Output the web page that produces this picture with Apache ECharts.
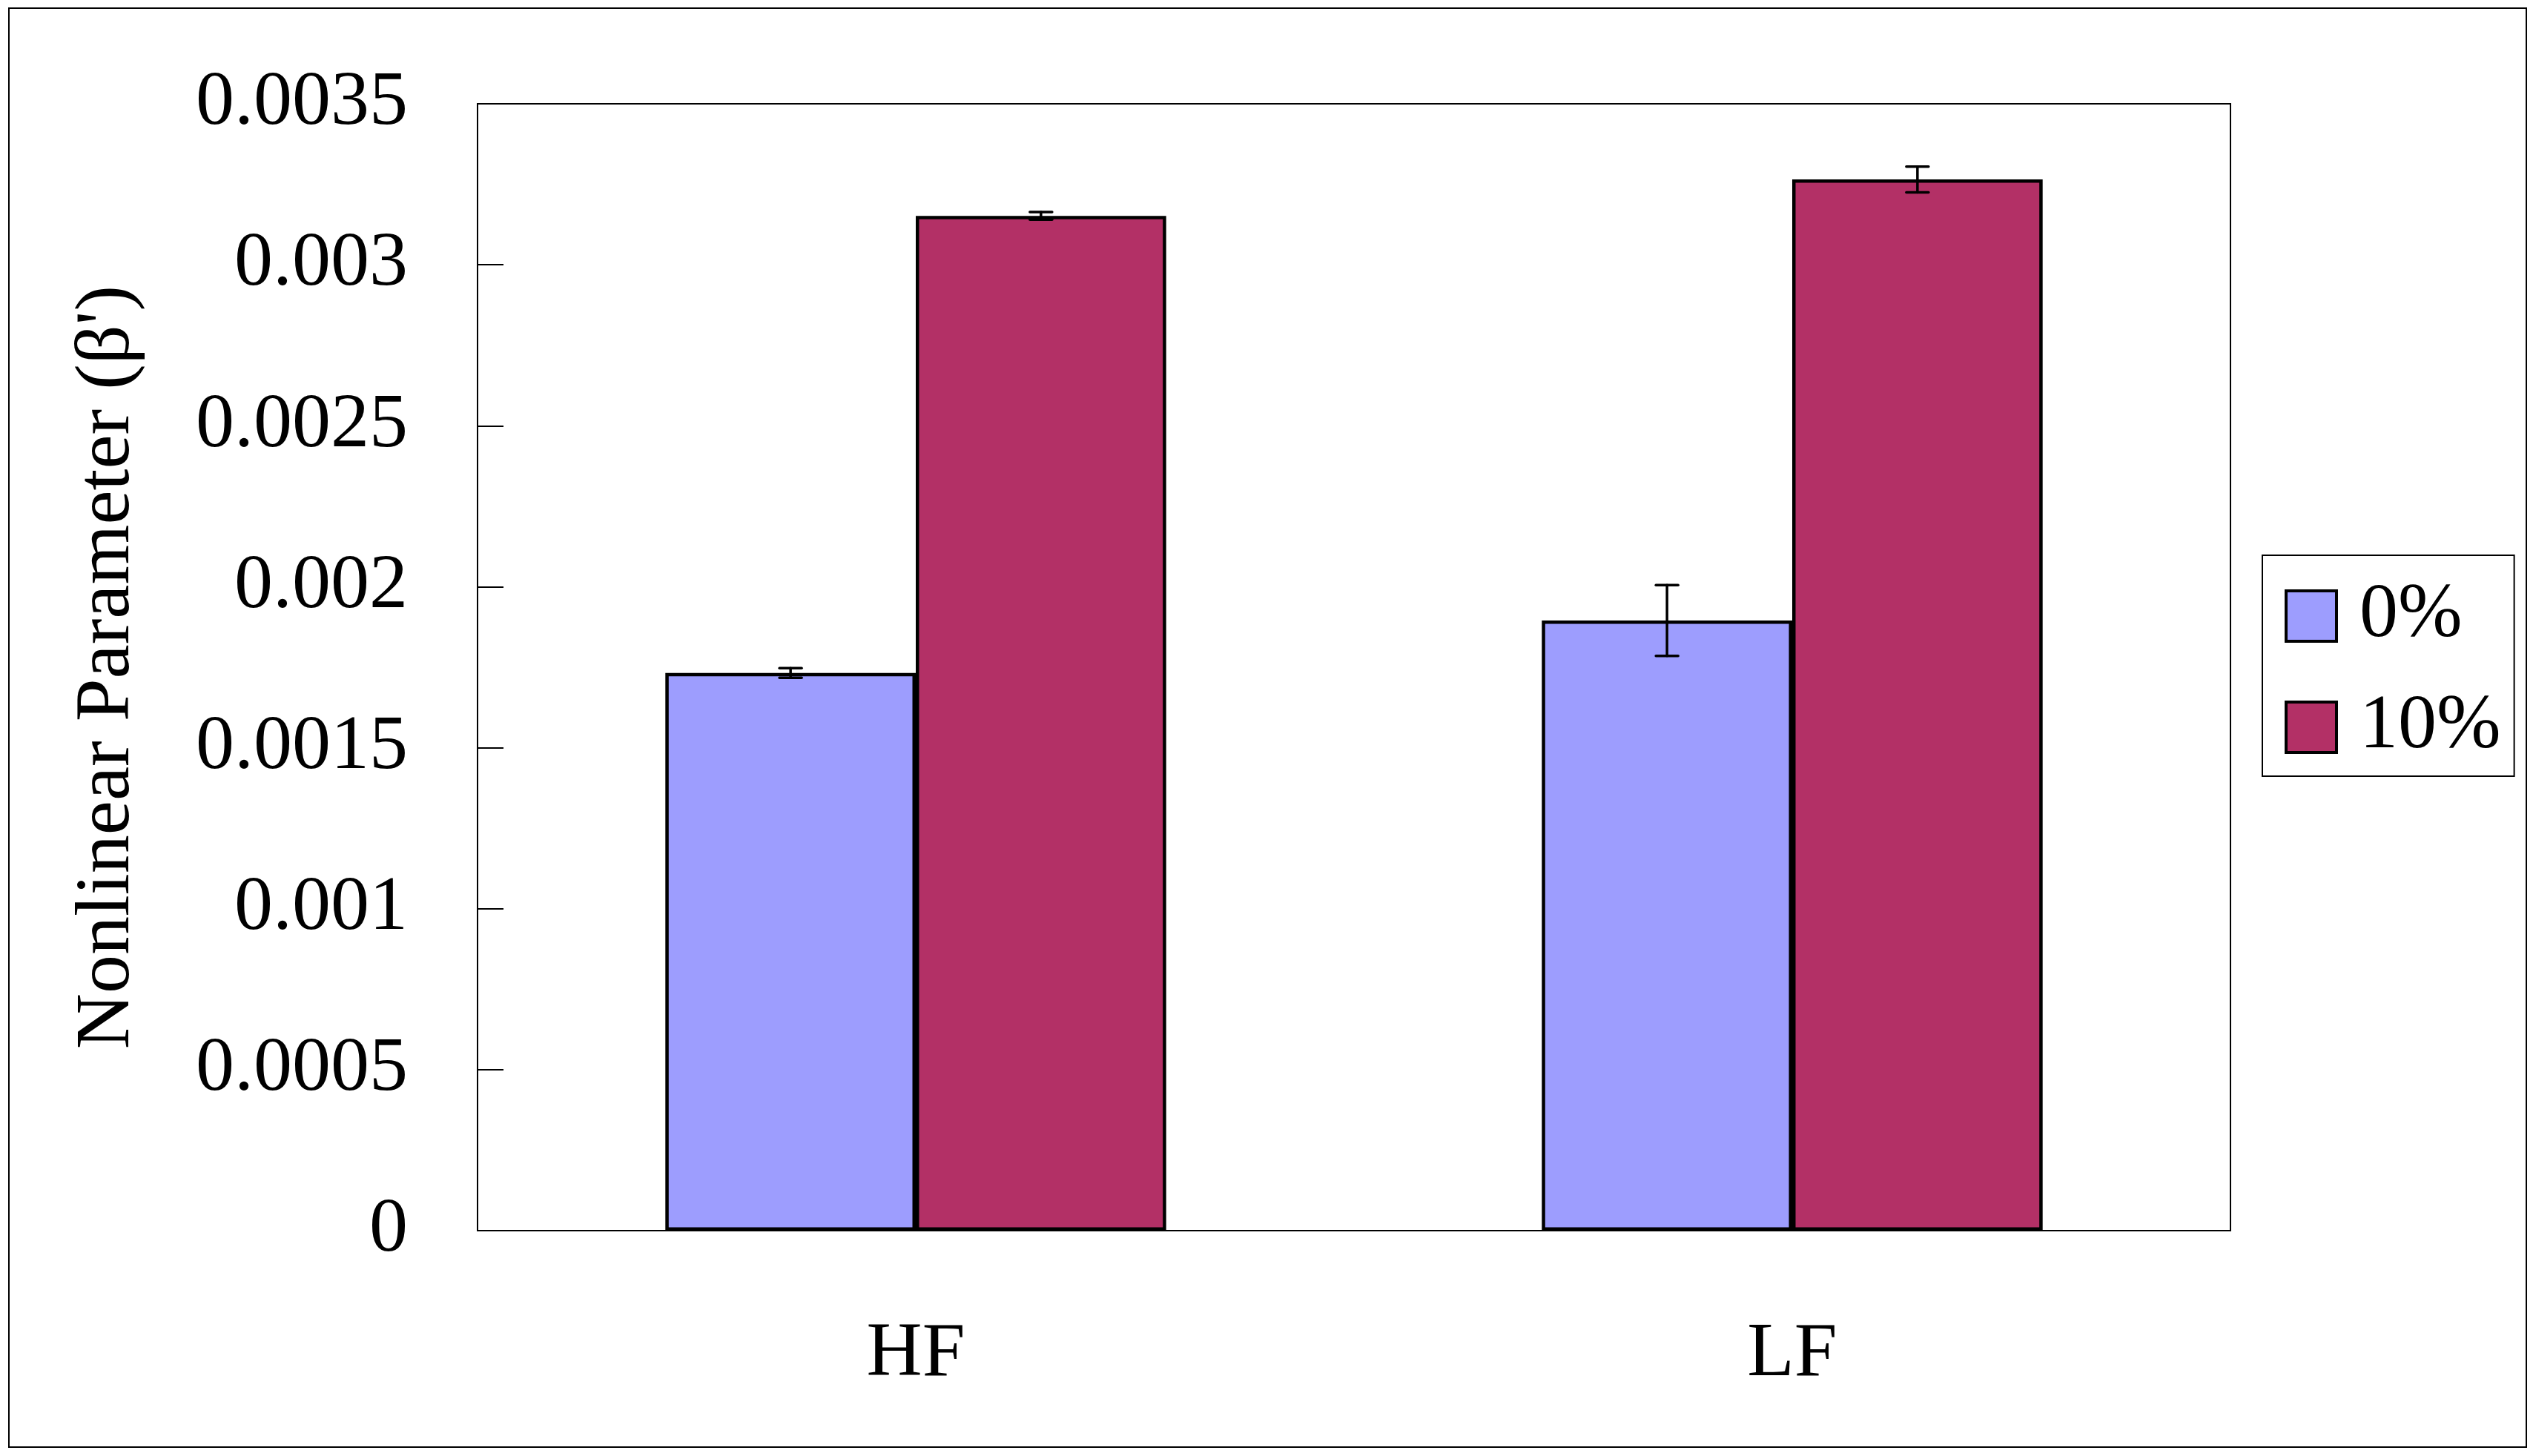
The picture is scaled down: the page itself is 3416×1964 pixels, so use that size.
<!DOCTYPE html>
<html>
<head>
<meta charset="utf-8">
<script src="https://cdn.jsdelivr.net/npm/echarts@6/dist/echarts.min.js"></script>
<style>
html,body{margin:0;padding:0;background:#fff;}
#c{width:3416px;height:1964px;}
</style>
</head>
<body>
<div id="c"></div>
<script>
var categories = ['HF', 'LF'];
var seriesNames = ['0%', '10%'];
var values0 = [0.001732, 0.001895];
var values10 = [0.003152, 0.003265];
var err0 = [0.000015, 0.00011];
var err10 = [0.000012, 0.00004];
var yTickLabels = ['0', '0.0005', '0.001', '0.0015', '0.002', '0.0025', '0.003', '0.0035'];

var FONT = '"Liberation Serif", "Times New Roman", serif';
var BAR_FRAC = 0.2857;

function errData(vals, errs) {
  return vals.map(function (v, i) { return [i, v, errs[i]]; });
}

function makeErrRender(sign) {
  return function (params, api) {
    var xi = api.value(0), v = api.value(1), e = api.value(2);
    var bw = api.size([1, 0])[0];
    var off = sign * bw * BAR_FRAC / 2;
    var top = api.coord([xi, v + e]);
    var bot = api.coord([xi, v - e]);
    var x = top[0] + off;
    var cap = 15;
    var st = { stroke: '#000', lineWidth: 3.5, lineCap: 'round' };
    return {
      type: 'group',
      children: [
        { type: 'line', shape: { x1: x, y1: top[1], x2: x, y2: bot[1] }, style: st },
        { type: 'line', shape: { x1: x - cap, y1: top[1], x2: x + cap, y2: top[1] }, style: st },
        { type: 'line', shape: { x1: x - cap, y1: bot[1], x2: x + cap, y2: bot[1] }, style: st }
      ]
    };
  };
}

var chart = echarts.init(document.getElementById('c'));
chart.setOption({
  backgroundColor: '#fff',
  animation: false,
  textStyle: { fontFamily: FONT, color: '#000' },
  graphic: [{
    type: 'rect',
    shape: { x: 12, y: 11, width: 3395, height: 1941 },
    style: { fill: 'none', stroke: '#000', lineWidth: 2 },
    silent: true
  }],
  grid: {
    left: 644, right: 408, top: 140, bottom: 304,
    show: true, borderColor: '#000', borderWidth: 2, backgroundColor: 'transparent'
  },
  legend: {
    data: seriesNames,
    icon: 'rect',
    orient: 'vertical',
    left: 3051, top: 749,
    padding: [30, 18, 14, 30],
    itemWidth: 68, itemHeight: 68, itemGap: 46,
    itemStyle: { borderColor: '#000', borderWidth: 4 },
    borderColor: '#000', borderWidth: 2, backgroundColor: '#fff',
    textStyle: { fontFamily: FONT, fontSize: 104, color: '#000', padding: [0, 0, 0, 26] }
  },
  xAxis: {
    type: 'category',
    data: categories,
    axisLine: { lineStyle: { color: '#000', width: 2 } },
    axisTick: { inside: true, length: 35, lineStyle: { color: '#000', width: 2 } },
    axisLabel: { fontFamily: FONT, fontSize: 104, color: '#000', margin: 116 },
    splitLine: { show: false }
  },
  yAxis: {
    type: 'value',
    min: 0, max: 0.0035, interval: 0.0005,
    name: "Nonlinear Parameter (β')",
    nameLocation: 'middle',
    nameRotate: 90,
    nameGap: 446,
    nameTextStyle: { fontFamily: FONT, fontSize: 104, color: '#000' },
    axisLine: { show: true, lineStyle: { color: '#000', width: 2 } },
    axisTick: { show: true, inside: true, length: 35, lineStyle: { color: '#000', width: 2 } },
    axisLabel: {
      fontFamily: FONT, fontSize: 104, color: '#000', margin: 94,
      padding: [8, 0, 0, 0],
      formatter: function (v) { return yTickLabels[Math.round(v / 0.0005)]; }
    },
    splitLine: { show: false }
  },
  series: [
    {
      name: seriesNames[0], type: 'bar', data: values0,
      barWidth: (BAR_FRAC * 100) + '%', barGap: '0%',
      itemStyle: { color: '#9D9DFE', borderColor: '#000', borderWidth: 4.5 }
    },
    {
      name: seriesNames[1], type: 'bar', data: values10,
      barWidth: (BAR_FRAC * 100) + '%', barGap: '0%',
      itemStyle: { color: '#B33066', borderColor: '#000', borderWidth: 4.5 }
    },
    {
      name: 'err0', type: 'custom', data: errData(values0, err0),
      renderItem: makeErrRender(-1), z: 10, silent: true
    },
    {
      name: 'err10', type: 'custom', data: errData(values10, err10),
      renderItem: makeErrRender(1), z: 10, silent: true
    }
  ]
});
</script>
</body>
</html>
